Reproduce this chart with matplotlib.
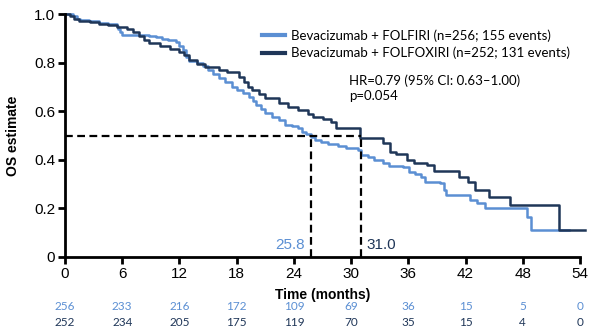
import matplotlib.pyplot as plt

# Kaplan-Meier estimates
folfiri_t = [0, 0.8, 1.3, 1.6, 2.5, 3.6, 4.5, 5.4, 5.6, 5.8, 6.0, 7.5, 8.8, 9.5,
             10.2, 10.8, 11.6, 12.0, 12.4, 12.7, 13.0, 13.8, 14.5, 15.0, 15.5,
             16.1, 16.8, 17.5, 18.0, 18.7, 19.3, 19.7, 20.0, 20.5, 21.0, 21.7,
             22.4, 23.1, 23.8, 24.4, 24.8, 25.3, 25.8, 26.2, 26.8, 27.6, 28.6,
             29.5, 30.7, 31.0, 31.8, 32.4, 33.3, 34.0, 35.4, 36.1, 36.7, 37.3,
             37.8, 39.3, 39.7, 39.9, 42.5, 43.2, 44.0, 48.4, 48.9, 52.8]
folfiri_s = [1.0, 0.99, 0.98, 0.975, 0.97, 0.965, 0.96, 0.952, 0.94, 0.925,
             0.915, 0.912, 0.908, 0.905, 0.898, 0.892, 0.885, 0.87, 0.85, 0.825,
             0.805, 0.797, 0.785, 0.77, 0.755, 0.735, 0.72, 0.70, 0.688, 0.675,
             0.66, 0.64, 0.625, 0.61, 0.592, 0.578, 0.565, 0.545, 0.538, 0.53,
             0.516, 0.505, 0.495, 0.483, 0.475, 0.467, 0.458, 0.448, 0.44, 0.42,
             0.41, 0.40, 0.388, 0.374, 0.369, 0.351, 0.342, 0.33, 0.31, 0.306,
             0.276, 0.255, 0.235, 0.222, 0.20, 0.166, 0.11, 0.11]

folfoxiri_t = [0, 0.5, 0.9, 1.5, 2.6, 3.6, 4.5, 5.4, 6.5, 7.1, 7.8, 8.3, 8.8,
               10.0, 11.0, 12.0, 12.5, 13.0, 13.8, 14.7, 16.1, 17.0, 18.2, 18.8,
               19.2, 19.6, 20.3, 21.0, 22.4, 23.4, 24.4, 25.5, 26.0, 27.0, 27.9,
               28.4, 30.9, 33.3, 34.1, 34.7, 35.9, 36.6, 38.0, 38.7, 41.3, 42.3,
               43.0, 44.5, 46.7, 51.8, 54.5]
folfoxiri_s = [1.0, 0.99, 0.978, 0.972, 0.968, 0.96, 0.955, 0.948, 0.938,
               0.927, 0.91, 0.895, 0.88, 0.87, 0.858, 0.845, 0.83, 0.81, 0.795,
               0.783, 0.77, 0.76, 0.742, 0.72, 0.70, 0.687, 0.67, 0.653, 0.632,
               0.618, 0.605, 0.59, 0.577, 0.567, 0.557, 0.53, 0.49, 0.468,
               0.433, 0.424, 0.40, 0.385, 0.379, 0.355, 0.33, 0.31, 0.276, 0.248,
               0.214, 0.11, 0.11]

median_folfiri = 25.8
median_folfoxiri = 31.0

xticks = [0, 6, 12, 18, 24, 30, 36, 42, 48, 54]
risk_folfiri = [256, 233, 216, 172, 109, 69, 36, 15, 5, 0]
risk_folfoxiri = [252, 234, 205, 175, 119, 70, 35, 15, 4, 0]

light = '#5b8fd3'
dark = '#1f3658'
calibri = ['Lato', 'DejaVu Sans']
plt.rcParams['font.family'] = ['Liberation Sans', 'DejaVu Sans']

fig = plt.figure(figsize=(5.9, 3.36), dpi=100)
ax = fig.add_axes([65 / 590, 79 / 336, 515 / 590, 243 / 336])

ax.plot(folfiri_t, folfiri_s, drawstyle='steps-post', color=light, lw=1.8,
        label='Bevacizumab + FOLFIRI (n=256; 155 events)', clip_on=False)
ax.plot(folfoxiri_t, folfoxiri_s, drawstyle='steps-post', color=dark, lw=1.8,
        label='Bevacizumab + FOLFOXIRI (n=252; 131 events)', clip_on=False)

# median lines
dash = dict(color='black', lw=1.6, ls=(0, (3.5, 2)))
ax.plot([0, median_folfoxiri], [0.5, 0.5], **dash)
ax.plot([median_folfiri, median_folfiri], [0, 0.5], **dash)
ax.plot([median_folfoxiri, median_folfoxiri], [0, 0.5], **dash)
ax.text(median_folfiri - 0.6, 0.05, f'{median_folfiri:.1f}', color=light,
        fontsize=11, ha='right', va='center')
ax.text(median_folfoxiri + 0.6, 0.05, f'{median_folfoxiri:.1f}', color=dark,
        fontsize=11, ha='left', va='center')

ax.text(29.8, 0.752, 'HR=0.79 (95% CI: 0.63\u20131.00)\np=0.054',
        fontsize=9.5, family=calibri, va='top', linespacing=1.35)

leg = ax.legend(loc='upper left', bbox_to_anchor=(0.36, 0.985), frameon=False,
                prop={'family': calibri, 'size': 9.5}, handlelength=1.7,
                handletextpad=0.5, labelspacing=0.35)
for line in leg.get_lines():
    line.set_linewidth(3)

ax.set_xlim(0, 54)
ax.set_ylim(0, 1.0)
ax.set_xticks(xticks)
ax.set_yticks([0, 0.2, 0.4, 0.6, 0.8, 1.0])
ax.set_yticklabels(['0', '0.2', '0.4', '0.6', '0.8', '1.0'])
for side in ['top', 'right']:
    ax.spines[side].set_visible(False)
for side in ['left', 'bottom']:
    ax.spines[side].set_linewidth(2)
ax.tick_params(width=2, length=5, labelsize=11, pad=2)
ax.set_xlabel('Time (months)', fontsize=10, fontweight='bold', labelpad=5)
ax.set_ylabel('OS estimate', fontsize=10, fontweight='bold', labelpad=10)

# numbers at risk
tr = ax.get_xaxis_transform()
for x, a, b in zip(xticks, risk_folfiri, risk_folfoxiri):
    ax.text(x, -0.202, str(a), transform=tr, ha='center', va='center',
            color=light, fontsize=8.5, family=calibri, clip_on=False)
    ax.text(x, -0.268, str(b), transform=tr, ha='center', va='center',
            color=dark, fontsize=8.5, family=calibri, clip_on=False)

fig.savefig('out.png', dpi=100)
